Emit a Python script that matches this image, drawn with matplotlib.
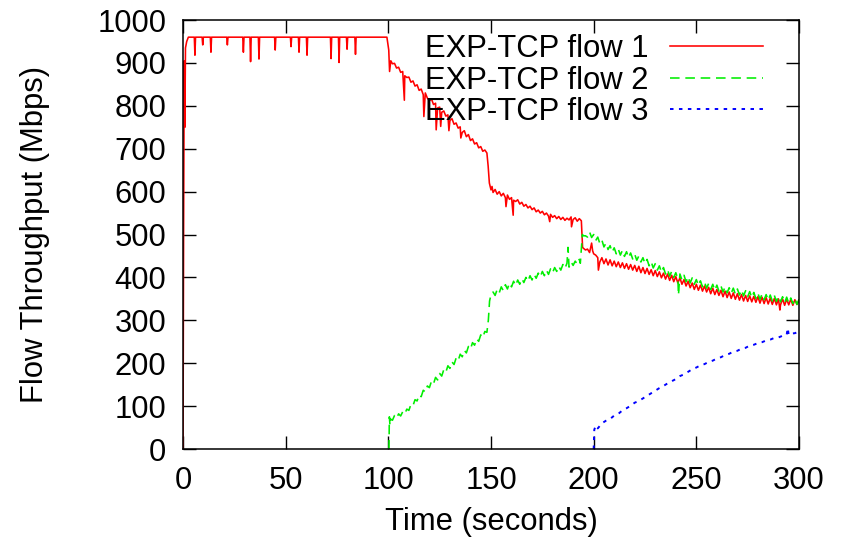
import matplotlib.pyplot as plt

plt.rcParams["font.family"] = ["Liberation Sans", "DejaVu Sans"]

# (time s, throughput Mbps)
flow1_points = [
    (0, 0), (0.3, 520), (0.6, 905), (0.9, 750), (1.2, 935), (1.8, 950), (2.6, 960),
    (5.5, 960), (5.8, 918), (6.1, 960), (9.3, 960), (9.6, 942), (9.9, 960),
    (13.3, 960), (13.6, 925), (13.9, 960), (21.3, 960), (21.6, 942), (21.9, 960),
    (29.1, 960), (29.4, 925), (29.7, 960), (32.6, 960), (32.9, 903), (33.2, 960),
    (36.7, 960), (37.0, 909), (37.3, 960), (44.6, 960), (44.9, 930), (45.2, 960),
    (52.3, 960), (52.6, 938), (52.9, 960), (56.2, 960), (56.5, 925), (56.8, 960),
    (60.1, 960), (60.4, 918), (60.7, 960), (71.8, 960), (72.1, 910), (72.4, 960),
    (75.7, 960), (76.0, 901), (76.3, 960), (79.6, 960), (79.9, 932), (80.2, 960),
    (83.7, 960), (84.0, 920), (84.3, 960),
    (99.3, 960), (100.2, 930), (100.6, 880), (101.2, 905),
    (102, 898), (103, 899), (104, 888), (105, 890), (106, 878), (107, 880), (107.8, 813),
    (108, 870), (109, 866), (110, 867), (111, 855), (112, 858), (113, 846), (114, 849),
    (115, 836), (116, 839), (117, 826), (117.3, 775), (118, 830), (119, 818), (120, 812),
    (121, 816), (122, 803), (123, 806), (123.3, 744), (124, 795), (125, 797), (125.5, 752),
    (126, 785), (127, 788), (128, 776), (129, 779), (129.5, 742), (130, 766), (131, 770),
    (132, 757), (133, 760), (134, 748), (135, 751), (135.3, 725), (136, 738), (137, 742),
    (138, 728), (139, 733), (140, 719), (141, 723), (142, 711), (143, 714), (144, 702),
    (145, 705), (146, 694), (147, 697), (148, 690), (148.6, 660), (149.2, 620), (150, 604),
    (150.5, 612), (151, 598), (152, 605), (153, 594), (154, 600), (155, 590), (156, 596),
    (157, 586), (157.3, 565), (158, 592), (159, 582), (160, 586), (160.8, 545), (161, 580),
    (162, 577), (163, 581), (164, 571), (165, 575), (166, 566), (167, 570), (168, 562),
    (169, 566), (170, 558), (171, 562), (172, 553), (173, 557), (174, 550), (175, 554),
    (176, 546), (177, 550), (178, 543), (178.6, 530), (179, 547), (180, 540), (181, 544),
    (182, 537), (183, 542), (184, 535), (185, 540), (186, 533), (187, 538), (188, 534),
    (189, 541), (189.2, 518), (190, 535), (191, 539), (192, 531), (193, 537), (194, 532),
    (194.6, 470), (195, 468), (196, 464), (197, 466), (198, 458), (199, 480), (199.5, 462),
    (200, 455), (201, 452), (202, 446), (202.3, 417), (203, 436), (204, 446), (205, 432),
    (206, 443), (207, 429), (208, 441), (209, 427), (210, 438), (211, 425), (212, 436),
    (213, 423), (214, 434), (215, 421), (216, 432), (217, 419), (218, 430), (219, 417),
    (220, 428), (221, 414), (222, 426), (223, 411), (224, 423), (225, 409), (226, 421),
    (227, 407), (228, 418), (229, 404), (230, 416), (231, 402), (232, 413), (233, 399),
    (234, 410), (235, 396), (236, 408), (237, 393), (238, 405), (239, 390), (240, 402),
    (241, 387), (242, 399), (243, 384), (244, 395), (245, 380), (246, 391), (247, 376),
    (248, 387), (249, 372), (250, 384), (251, 370), (252, 382), (253, 368), (254, 380),
    (255, 366), (256, 377), (257, 362), (258, 375), (259, 360), (260, 372), (261, 358),
    (262, 370), (263, 355), (264, 368), (265, 353), (266, 366), (267, 351), (268, 364),
    (269, 349), (270, 362), (271, 347), (272, 360), (273, 345), (274, 358), (275, 344),
    (276, 357), (277, 343), (278, 356), (279, 342), (280, 355), (281, 340), (282, 354),
    (283, 339), (284, 353), (285, 338), (286, 352), (287, 337), (288, 351), (289, 336),
    (290, 350), (290.7, 324), (291, 336), (292, 350), (293, 335), (294, 349), (295, 336),
    (296, 349), (297, 335), (298, 348), (299, 337), (300, 346),
]

flow2_points = [
    (100, 0), (100.3, 0), (100.5, 75), (100.8, 55), (101, 70),
    (102, 67), (103, 78), (104, 72), (105, 82), (106, 77), (107, 87), (108, 82),
    (109, 93), (110, 90), (111, 104), (112, 101), (113, 115), (114, 112), (115, 126),
    (116, 122), (117, 137), (118, 133), (119, 147), (120, 143), (121, 158), (122, 152),
    (123, 167), (124, 161), (125, 176), (126, 170), (127, 185), (128, 179), (129, 194),
    (130, 188), (131, 203), (132, 197), (133, 212), (134, 206), (135, 221), (136, 215),
    (137, 230), (138, 224), (139, 239), (140, 233), (141, 248), (142, 242), (143, 257),
    (144, 251), (145, 266), (146, 260), (147, 274), (148, 272), (148.7, 300), (149.3, 345),
    (150, 360), (151, 366), (152, 358), (153, 372), (154, 364), (155, 378), (156, 369),
    (157, 383), (158, 373), (159, 387), (160, 378), (161, 391), (162, 381), (163, 394),
    (164, 384), (165, 397), (166, 388), (167, 400), (168, 391), (169, 404), (170, 394),
    (171, 407), (172, 398), (173, 410), (174, 401), (175, 414), (176, 404), (177, 417),
    (178, 407), (179, 420), (180, 411), (181, 423), (182, 414), (183, 426), (184, 417),
    (185, 430), (186, 421), (187, 433), (187.5, 470), (188, 424), (189, 436), (190, 428),
    (191, 438), (192, 431), (193, 442), (193.5, 433), (194.5, 500), (195, 497),
    (196, 497), (197, 494), (198, 506), (199, 493), (200, 500), (201, 486), (202, 494),
    (203, 479), (204, 487), (205, 471), (206, 480), (207, 465), (208, 474), (209, 459),
    (210, 469), (211, 455), (212, 466), (213, 452), (214, 463), (215, 449), (216, 460),
    (217, 446), (218, 457), (219, 443), (220, 454), (221, 440), (222, 450), (223, 436),
    (224, 446), (225, 432), (226, 442), (227, 427), (228, 437), (229, 422), (230, 432),
    (231, 417), (232, 427), (233, 412), (234, 423), (235, 408), (236, 418), (237, 403),
    (238, 414), (239, 400), (240, 411), (241, 397), (241.3, 359), (242, 408), (243, 394),
    (244, 405), (245, 390), (246, 402), (247, 387), (248, 399), (249, 384), (250, 395),
    (251, 381), (252, 392), (253, 378), (254, 389), (255, 375), (256, 386), (257, 372),
    (258, 384), (259, 370), (260, 382), (261, 368), (262, 380), (263, 366), (264, 378),
    (265, 364), (266, 376), (267, 363), (268, 375), (269, 361), (270, 373), (271, 359),
    (272, 371), (273, 357), (274, 369), (275, 355), (276, 367), (277, 353), (278, 365),
    (279, 351), (280, 363), (281, 349), (282, 361), (283, 348), (284, 360), (285, 347),
    (286, 359), (287, 345), (288, 358), (289, 344), (290, 356), (291, 343), (292, 355),
    (293, 341), (294, 354), (295, 340), (296, 352), (297, 339), (298, 351), (299, 337),
    (300, 349),
]

flow3_points = [
    (200, 0), (200.3, 45), (201, 55), (202, 48), (204, 60), (206, 66), (208, 70),
    (210, 78), (212, 82), (214, 90), (216, 95), (218, 101), (220, 108), (222, 112),
    (224, 118), (226, 124), (228, 130), (230, 136), (232, 142), (234, 147), (236, 153),
    (238, 158), (240, 163), (242, 170), (244, 174), (246, 180), (248, 186), (250, 190),
    (252, 195), (254, 198), (256, 203), (258, 206), (260, 211), (262, 214), (264, 219),
    (266, 222), (268, 227), (270, 229), (272, 234), (274, 236), (276, 241), (278, 243),
    (280, 247), (282, 249), (284, 253), (286, 255), (288, 259), (290, 260), (292, 264),
    (294, 266), (294.5, 282), (295, 266), (296, 269), (298, 270), (300, 274),
]

labels = ["EXP-TCP flow 1", "EXP-TCP flow 2", "EXP-TCP flow 3"]
x_ticks = [0, 50, 100, 150, 200, 250, 300]
y_ticks = [0, 100, 200, 300, 400, 500, 600, 700, 800, 900, 1000]

fs = 22.3
fig = plt.figure(figsize=(8.43, 5.38), dpi=100)
ax = fig.add_axes([0.2171, 0.1654, 0.7307, 0.7974])

t1, v1 = zip(*flow1_points)
t2, v2 = zip(*flow2_points)
t3, v3 = zip(*flow3_points)
ax.plot(t1, v1, color="#ff0000", lw=1.15, label=labels[0])
ax.plot(t2, v2, color="#00ee00", lw=1.15, dashes=(6, 3.6), label=labels[1])
ax.plot(t3, v3, color="#0000ff", lw=1.4, dashes=(1.8, 2.8), label=labels[2])

ax.set_xlim(0, 300)
ax.set_ylim(0, 1000)
ax.set_xticks(x_ticks)
ax.set_yticks(y_ticks)
ax.tick_params(direction="in", length=9.5, width=1, top=True, right=True,
               labelsize=fs, pad=12)
for s in ax.spines.values():
    s.set_linewidth(1.1)

ax.set_xlabel("Time (seconds)", fontsize=fs, labelpad=8)
ax.set_ylabel("Flow Throughput (Mbps)", fontsize=fs)
ax.yaxis.set_label_coords(-0.216, 0.5)

ax.legend(loc="upper right", bbox_to_anchor=(763 / 843, 1 - 34 / 538),
          bbox_transform=fig.transFigure, frameon=False, markerfirst=False,
          handlelength=3.0, handletextpad=0.7, labelspacing=0.05,
          borderpad=0, borderaxespad=0, fontsize=fs)

plt.savefig("out.png", dpi=100)
